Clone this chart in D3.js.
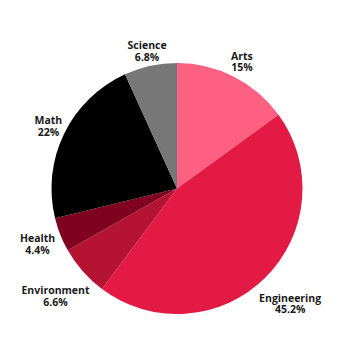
<!DOCTYPE html>
<html><head><meta charset="utf-8">
<script src="https://cdn.jsdelivr.net/npm/d3@7"></script>
<style>html,body{margin:0;padding:0;background:#fff;}</style>
</head><body><svg id="c" width="355" height="355"></svg>
<script>
const categories = ["Arts","Engineering","Environment","Health","Math","Science"];
const values = [15, 45.2, 6.6, 4.4, 22, 6.8];
const valueLabels = ["15%","45.2%","6.6%","4.4%","22%","6.8%"];
const colors = ["#fd6080","#e31a43","#b51332","#7f0220","#000000","#777777"];

// layout: label distance from centre per category
const labelRadius = {Arts:143, Engineering:161, Environment:162, Health:150, Math:143, Science:141};

const svg = d3.select("#c");
const cx = 177, cy = 188.5, R = 125.5;
const g = svg.append("g").attr("transform", `translate(${cx},${cy})`);
const data = categories.map((c,i)=>({cat:c, v:values[i], lab:valueLabels[i], col:colors[i]}));
const pie = d3.pie().value(d=>d.v).sort(null);
const arcs = pie(data);
const arc = d3.arc().innerRadius(0).outerRadius(R);
g.selectAll("path.s").data(arcs).join("path").attr("class","s")
  .attr("d", arc).attr("fill", d=>d.data.col);

const lbl = g.selectAll("text.l").data(arcs).join("text").attr("class","l")
  .attr("text-anchor","middle")
  .attr("font-family","'Open Sans', sans-serif")
  .attr("font-weight","700")
  .attr("font-size","10.5px")
  .attr("fill","#1a1a1a")
  .attr("transform", d=>{
    const a = (d.startAngle+d.endAngle)/2;
    const r = labelRadius[d.data.cat];
    return `translate(${r*Math.sin(a)},${-r*Math.cos(a)})`;
  });
lbl.append("tspan").attr("x",0).attr("y",-1.5).text(d=>d.data.cat);
lbl.append("tspan").attr("x",0).attr("y",10).text(d=>d.data.lab);
</script></body></html>
